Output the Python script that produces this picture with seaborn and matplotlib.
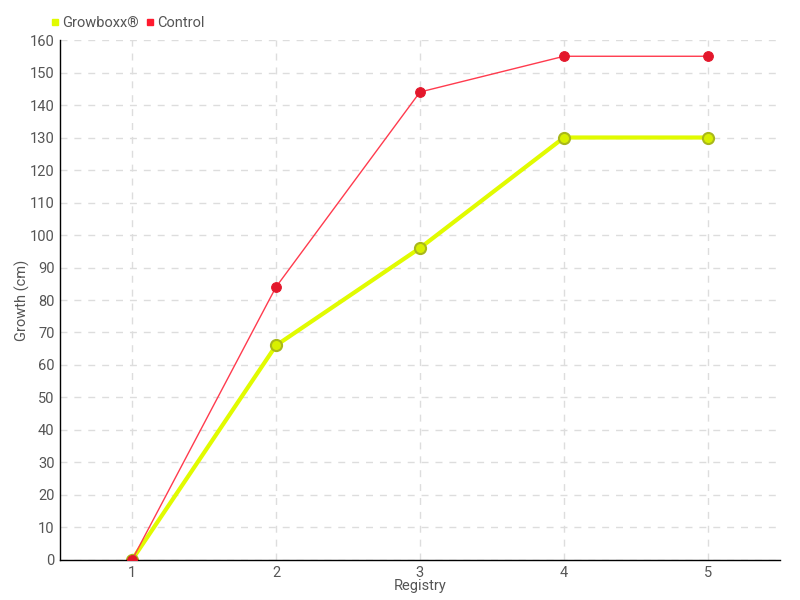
import pandas as pd
import numpy as np
import matplotlib.pyplot as plt
import seaborn as sns
from matplotlib.lines import Line2D

# chart data
registry = [1, 2, 3, 4, 5]
growboxx = [0, 66, 96, 130, 130]
control = [0, 84, 144, 155, 155]
y_ticks = list(range(0, 161, 10))

df = pd.DataFrame({
    'Registry': registry * 2,
    'Growth': growboxx + control,
    'Series': ['Growboxx®'] * len(registry) + ['Control'] * len(registry),
})

sns.set_style("white")
plt.rcParams['font.family'] = ['Roboto', 'DejaVu Sans']

fig = plt.figure(figsize=(8, 6), dpi=100)
ax = fig.add_axes([0.075, 0.0667, 0.9, 0.8666])

# Growboxx series (thick yellow)
sub = df[df['Series'] == 'Growboxx®']
sns.lineplot(data=sub, x='Registry', y='Growth', ax=ax, color='#e1fb00', linewidth=3,
             marker='o', markersize=8, markerfacecolor='#d8f000', markeredgecolor='#a9b81a',
             markeredgewidth=1.5, zorder=2, legend=False)

# Control series (thin red)
sub = df[df['Series'] == 'Control']
sns.lineplot(data=sub, x='Registry', y='Growth', ax=ax, color='#ff3b4e', linewidth=1,
             marker='o', markersize=7, markerfacecolor='#e3172b', markeredgecolor='#e3172b',
             zorder=3, legend=False)

ax.set_xlim(0.5, 5.5)
ax.set_ylim(0, 160)
ax.set_xticks(registry)
ax.set_yticks(y_ticks)
ax.grid(True, color='#dddddd', linestyle=(0, (5, 5)), linewidth=1)
ax.set_axisbelow(True)

for s in ['top', 'right']:
    ax.spines[s].set_visible(False)
for s in ['left', 'bottom']:
    ax.spines[s].set_color('black')
    ax.spines[s].set_linewidth(1)

ax.tick_params(axis='y', direction='inout', length=6, labelsize=10.5, width=1, pad=1)
ax.tick_params(axis='x', direction='out', length=4, labelsize=10.5, width=1, pad=0)
ax.tick_params(axis='both', color='#333333', labelcolor='#555555')

ax.set_xlabel('Registry', color='#555555', fontsize=10.5)
ax.set_ylabel('Growth (cm)', color='#555555', fontsize=10.5)
ax.xaxis.set_label_coords(0.5, -0.036)
ax.yaxis.set_label_coords(-0.042, 0.5)

# legend at top-left
handles = [
    Line2D([], [], marker='s', linestyle='none', color='#e1fb00', markersize=5),
    Line2D([], [], marker='s', linestyle='none', color='#ff1a2e', markersize=5),
]
fig.legend(handles, ['Growboxx®', 'Control'], loc='upper left', bbox_to_anchor=(0.05, 0.99),
           ncol=2, frameon=False, fontsize=10.5, handlelength=0.6, handletextpad=0.2,
           columnspacing=0.5, labelcolor='#555555', borderaxespad=0.3)

plt.savefig("out.png", dpi=100)
